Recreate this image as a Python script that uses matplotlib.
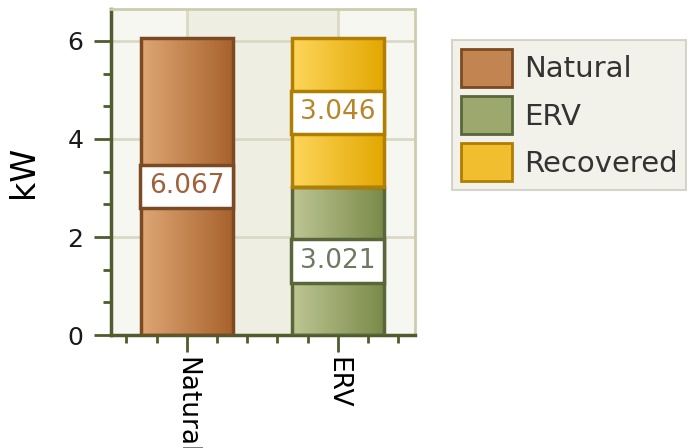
import numpy as np
import matplotlib
matplotlib.use("Agg")
import matplotlib.pyplot as plt
from matplotlib.patches import Patch
from matplotlib.colors import LinearSegmentedColormap, to_rgb, to_hex
from matplotlib.ticker import MultipleLocator

categories = ["Natural", "ERV"]
natural = [6.067, 0.0]
erv = [0.0, 3.021]
recovered = [0.0, 3.046]
series_names = ["Natural", "ERV", "Recovered"]
y_ticks = [0, 2, 4, 6]

grad = {
    "Natural": ("#dea775", "#a7612b", "#7b4a22", "#a0603a"),
    "ERV": ("#bec694", "#7a8948", "#58663a", "#6e7862"),
    "Recovered": ("#fed65c", "#e2a700", "#b07e00", "#b8862a"),
}

fig = plt.figure(figsize=(6.95, 4.48), dpi=100)
ax = fig.add_axes([0.160, 0.252, 0.437, 0.728])
x = np.arange(len(categories))
ax.set_ylim(0, 6.65)
ax.set_facecolor("#f7f7f1")
ax.axvspan(x[0], x[1], color="#eeeee3", zorder=0)
for xv in x:
    ax.axvline(xv, color="#d9d9c4", lw=2, zorder=0.5)
for yv in y_ticks[1:]:
    ax.axhline(yv, color="#d9d9c4", lw=2, zorder=0.5)

width = 0.61
bottoms = np.zeros(len(categories))
for name, vals in zip(series_names, [natural, erv, recovered]):
    vals = np.array(vals)
    c0, c1, ec, tc = grad[name]
    cmap = LinearSegmentedColormap.from_list(name, [c0, c1])
    idx = np.nonzero(vals > 0)[0]
    bars = ax.bar(x[idx], vals[idx], width, bottom=bottoms[idx], facecolor="none",
                  edgecolor=ec, linewidth=2.5, zorder=3)
    for b, v, bt in zip(bars, vals[idx], bottoms[idx]):
        x0, y0, w, h = b.get_x(), b.get_y(), b.get_width(), b.get_height()
        im = ax.imshow(np.linspace(0, 1, 256).reshape(1, -1), cmap=cmap,
                       extent=[x0, x0 + w, y0, y0 + h], aspect="auto",
                       zorder=2, interpolation="bilinear")
        im.set_clip_path(b)
        ax.text(b.get_x() + b.get_width() / 2, bt + v / 2, f"{v:.3f}",
                ha="center", va="center", fontsize=19, color=tc, zorder=5,
                bbox=dict(boxstyle="square,pad=0.33", fc="white", ec=ec, lw=2.5))
    bottoms = bottoms + vals

ax.set_xticks(x)
ax.set_xticklabels(categories, rotation=270, fontsize=19, color="black",
                   va="top", ha="center")
ax.xaxis.set_minor_locator(MultipleLocator(0.2))
ax.set_yticks(y_ticks)
ax.set_yticklabels([str(t) for t in y_ticks], fontsize=18, color="#1a1a1a")
ax.yaxis.set_minor_locator(MultipleLocator(2 / 3))
olive = "#4f5c2e"
ax.tick_params(axis="both", which="major", color=olive, width=2, length=12, pad=4)
ax.tick_params(axis="y", which="major", pad=8)
ax.tick_params(axis="both", which="minor", color=olive, width=2, length=6)
ax.set_xlim(-0.5, 1.51)
for s in ["left", "bottom"]:
    ax.spines[s].set_color(olive)
    ax.spines[s].set_linewidth(2.5)
for s in ["top", "right"]:
    ax.spines[s].set_color("#cdcdae")
    ax.spines[s].set_linewidth(2)
ax.set_ylabel("kW", fontsize=24, labelpad=20)

def mid(n):
    return to_hex((np.array(to_rgb(grad[n][0])) + np.array(to_rgb(grad[n][1]))) / 2)

handles = [Patch(facecolor=mid(n), edgecolor=grad[n][2], linewidth=2)
           for n in series_names]
leg = fig.legend(handles, series_names, loc="upper left",
                 bbox_to_anchor=(0.651, 0.911), fontsize=21, frameon=True,
                 fancybox=False, handlelength=1.75, handleheight=1.65,
                 handletextpad=0.4, labelspacing=0.3, borderpad=0.3,
                 borderaxespad=0)
leg.get_frame().set_facecolor("#efefe6")
leg.get_frame().set_edgecolor("#cbcbbd")
leg.get_frame().set_linewidth(1.5)
for t in leg.get_texts():
    t.set_color("#333333")

fig.savefig("out.png", dpi=100, facecolor="white")
